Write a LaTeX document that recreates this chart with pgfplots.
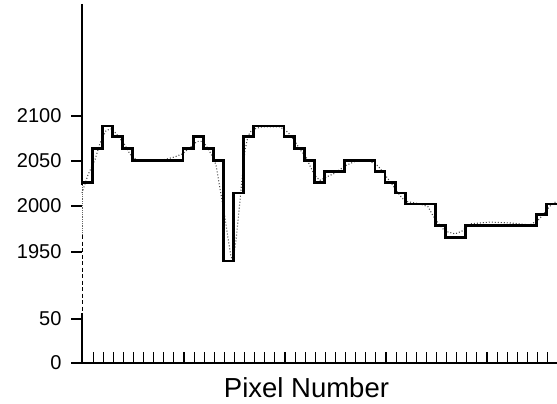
\documentclass[border=0pt]{standalone}
\usepackage{fontspec}
\setmainfont{Liberation Sans}
\usepackage{pgfplots}
\pgfplotsset{compat=1.18}
\begin{document}
\begin{tikzpicture}[x=1pt,y=1pt]
\useasboundingbox (0,0) rectangle (557,404);
\begin{axis}[
  at={(82pt,41pt)}, anchor=south west, scale only axis,
  width=475pt, height=359pt,
  xmin=0, xmax=47.03, ymin=0, ymax=359,
  axis x line=bottom, axis y line=left,
  axis line style={-, line width=1.3pt, black},
  y axis line style={draw=none},
  clip=false,
  xtick={1.1,2.1,...,46.1}, xticklabels={},
  ytick={0,44,111,157,202,247},
  yticklabels={0,50,1950,2000,2050,2100},
  xtick align=inside, ytick align=outside,
  major tick length=10.5pt,
  tick style={line width=1.1pt, black},
  yticklabel style={font=\fontsize{20}{20}\selectfont, xshift=-6.5pt},
  /pgf/number format/assume math mode=true,
  xlabel={Pixel Number},
  xlabel style={font=\fontsize{27.5}{28}\selectfont, inner sep=0pt, at={(axis description cs:0.4726,-0.097)}, anchor=base},
  y filter/.expression={111+(y-1950)*0.9067},
]
\draw[line width=1.3pt] (rel axis cs:0,1) -- (rel axis cs:0,0.4958);
\draw[line width=0.8pt, black!60, densely dotted] (rel axis cs:0,0.4958) -- (rel axis cs:0,0.3565);
\draw[line width=0.9pt, dash pattern=on 4pt off 2.5pt] (rel axis cs:0,0.3565) -- (rel axis cs:0,0.1393);
\draw[line width=1.3pt] (rel axis cs:0,0.1393) -- (rel axis cs:0,0);
% dotted (fitted) curve
\addplot[black!70, line width=1.1pt, dash pattern=on 1pt off 2pt] coordinates {
(0,2015) (0.59,2035) (1.29,2052) (1.78,2070) (2.38,2084) (2.97,2086)
(3.56,2078) (4.26,2068) (4.75,2058) (5.35,2052) (6.73,2050) (8.22,2052)
(9.21,2055) (9.90,2058) (10.69,2065) (11.39,2072) (11.98,2072) (12.48,2064)
(12.87,2056) (13.27,2046) (13.66,2020) (14.06,1995) (14.46,1965) (14.75,1945)
(14.95,1940) (15.25,1963) (15.54,1995) (15.84,2030) (16.14,2062) (16.44,2078)
(16.83,2085) (17.82,2088) (19.60,2088) (20.40,2082) (21.09,2072) (21.58,2063)
(22.18,2055) (22.57,2045) (23.07,2034) (23.56,2029) (24.26,2033) (25.05,2037)
(26.04,2045) (27.03,2050) (28.51,2050) (29.31,2045) (30.00,2035) (30.69,2025)
(31.29,2015) (31.98,2006) (33.47,2003) (34.26,2000) (34.75,1990) (35.25,1982)
(35.94,1973) (36.93,1970) (37.62,1973) (38.42,1981) (40.40,1983) (42.38,1982)
(44.36,1980) (45.15,1985) (45.64,1991) (46.14,1998) (46.53,2003) (47.03,2006)
};
% step (pixel) values
\addplot[const plot, black, line width=2.8pt, line join=miter] coordinates {
(0,2027) (1,2064) (2,2089) (3,2077) (4,2064) (5,2051) (6,2051) (7,2051)
(8,2051) (9,2051) (10,2064) (11,2077) (12,2064) (13,2051) (14,1940) (15,2015)
(16,2077) (17,2089) (18,2089) (19,2089) (20,2077) (21,2064) (22,2051) (23,2027)
(24,2039) (25,2039) (26,2051) (27,2051) (28,2051) (29,2039) (30,2027) (31,2015)
(32,2003) (33,2003) (34,2003) (35,1979) (36,1966) (37,1966) (38,1979) (39,1979)
(40,1979) (41,1979) (42,1979) (43,1979) (44,1979) (45,1991) (46,2003) (47.03,2003)
};
\end{axis}
\end{tikzpicture}
\end{document}
